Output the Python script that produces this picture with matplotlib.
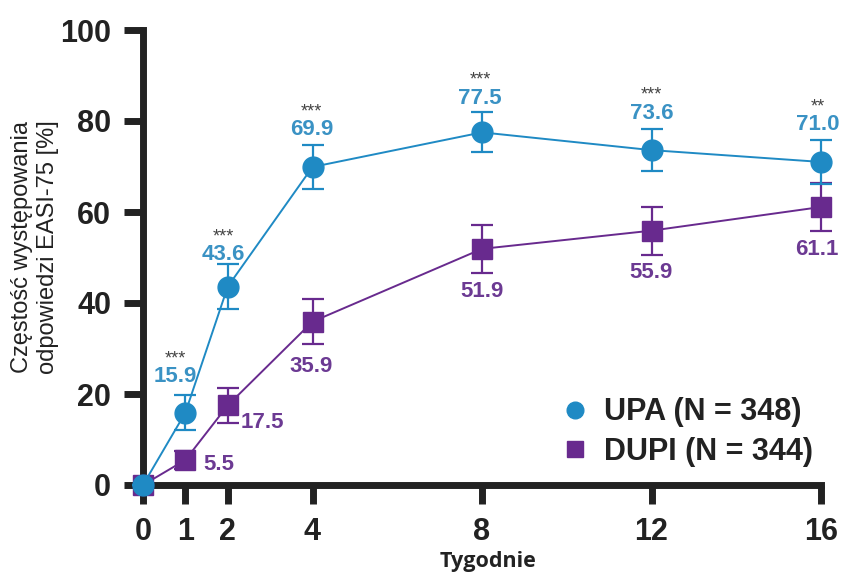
import matplotlib
matplotlib.use("Agg")
import matplotlib.pyplot as plt
from matplotlib.lines import Line2D

# ----------------------------- data ------------------------------------------
weeks = [0, 1, 2, 4, 8, 12, 16]
upa = [0.0, 15.9, 43.6, 69.9, 77.5, 73.6, 71.0]
upa_err = [0.0, 3.8, 5.0, 4.8, 4.4, 4.6, 4.8]
dupi = [0.0, 5.5, 17.5, 35.9, 51.9, 55.9, 61.1]
dupi_err = [0.0, 2.0, 3.9, 5.0, 5.2, 5.3, 5.2]
stars = ["", "***", "***", "***", "***", "***", "**"]
legend_labels = ["UPA (N = 348)", "DUPI (N = 344)"]
ylabel = "Częstość występowania\nodpowiedzi EASI-75 [%]"
xlabel = "Tygodnie"

# label offsets in pixels (dx, dy) relative to the point
upa_off = [None, (-10, 36), (-4, 32), (-1, 37), (-2, 34), (0, 37), (-3, 37)]
dupi_off = [None, (33, -5), (35, -17), (-1, -45), (0, -43), (0, -42), (-4, -43)]

C_UPA = "#1f8ac4"
C_UPA_TXT = "#3a92c4"
C_DUPI = "#682a8e"
C_DUPI_TXT = "#6c3a93"
DARK = "#222222"

PX = 72.0 / 100.0  # pixels -> points at dpi 100

plt.rcParams["font.family"] = ["Liberation Sans", "DejaVu Sans"]

fig = plt.figure(figsize=(8.43, 5.75), dpi=100)
ax = fig.add_axes([143 / 843, 1 - 485 / 575, 678 / 843, 455 / 575])

ax.errorbar(weeks, dupi, yerr=dupi_err, color=C_DUPI, marker="s", ms=14,
            lw=1.4, elinewidth=1.6, capsize=8, capthick=1.6,
            clip_on=False, zorder=4)
ax.errorbar(weeks, upa, yerr=upa_err, color=C_UPA, marker="o", ms=15,
            lw=1.4, elinewidth=1.6, capsize=8, capthick=1.6,
            clip_on=False, zorder=5)

for i, w in enumerate(weeks):
    if upa_off[i] is not None:
        dx, dy = upa_off[i]
        ax.annotate(f"{upa[i]:.1f}", (w, upa[i]), xytext=(dx * PX, dy * PX),
                    textcoords="offset points", ha="center", va="center",
                    fontsize=16, fontweight="bold", color=C_UPA_TXT, zorder=6)
        ax.annotate(stars[i], (w, upa[i]), xytext=(dx * PX, (dy + 18) * PX),
                    textcoords="offset points", ha="center", va="center",
                    fontsize=13, color="#444444", zorder=6)
    if dupi_off[i] is not None:
        dx, dy = dupi_off[i]
        ax.annotate(f"{dupi[i]:.1f}", (w, dupi[i]), xytext=(dx * PX, dy * PX),
                    textcoords="offset points", ha="center", va="center",
                    fontsize=16, fontweight="bold", color=C_DUPI_TXT, zorder=6)

ax.set_xlim(0, 16)
ax.set_ylim(0, 100)
ax.set_xticks(weeks)
ax.set_yticks([0, 20, 40, 60, 80, 100])
for s in ["top", "right"]:
    ax.spines[s].set_visible(False)
for s in ["left", "bottom"]:
    ax.spines[s].set_linewidth(5)
    ax.spines[s].set_color(DARK)
ax.tick_params(axis="both", length=14, width=5, color=DARK,
               labelsize=22, labelcolor=DARK)
ax.tick_params(axis="y", pad=9)
ax.tick_params(axis="x", pad=9)
for lab in ax.get_xticklabels() + ax.get_yticklabels():
    lab.set_fontweight("bold")

fig.text(35 / 843, 1 - 247 / 575, ylabel, rotation=90, ha="center",
         va="center", multialignment="center", fontsize=17, color=DARK,
         linespacing=1.2)
fig.text(488 / 843, 1 - 562 / 575, xlabel, ha="center", va="center",
         fontsize=15.5, fontweight="bold", color=DARK,
         family=["Open Sans", "DejaVu Sans"])

handles = [
    Line2D([], [], marker="o", ls="none", color=C_UPA, ms=12),
    Line2D([], [], marker="s", ls="none", color=C_DUPI, ms=11),
]
leg = fig.legend(handles, legend_labels, loc="center left",
                 bbox_to_anchor=(563 / 843, 1 - 432 / 575), frameon=False,
                 borderpad=0, borderaxespad=0, handlelength=0.8,
                 handletextpad=0.55, labelspacing=0.3,
                 prop={"size": 22, "weight": "bold"})
for t in leg.get_texts():
    t.set_color(DARK)

fig.savefig("out.png", dpi=100)
